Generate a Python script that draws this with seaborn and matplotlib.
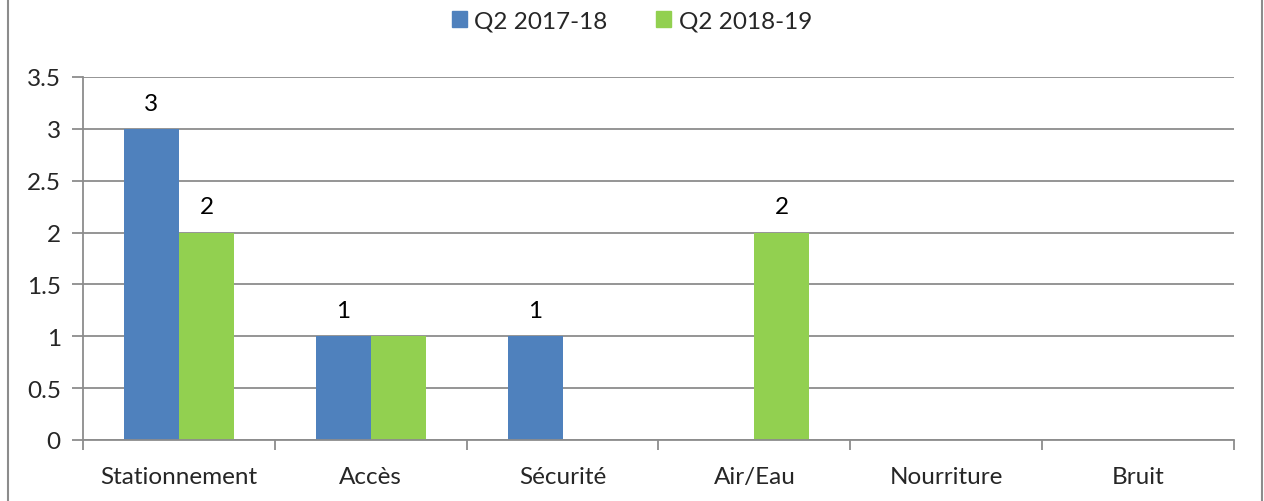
import matplotlib
matplotlib.use("Agg")
import matplotlib.pyplot as plt
import seaborn as sns
import pandas as pd
import numpy as np
from matplotlib.lines import Line2D

categories = ["Stationnement", "Accès", "Sécurité", "Air/Eau", "Nourriture", "Bruit"]
series_names = ["Q2 2017-18", "Q2 2018-19"]
values_2017 = [3, 1, 1, 0, 0, 0]
values_2018 = [2, 1, 0, 2, 0, 0]
labels_2017 = ["3", "1", "1", "", "", ""]
labels_2018 = ["2", "", "", "2", "", ""]
yticks = [0, 0.5, 1, 1.5, 2, 2.5, 3, 3.5]
colors = ["#4F81BD", "#92D050"]

sns.set_style("white")
plt.rcParams['font.family'] = ['Lato', 'DejaVu Sans']
FS = 17.5

df = pd.DataFrame({
    "cat": categories * 2,
    "series": [series_names[0]] * 6 + [series_names[1]] * 6,
    "val": values_2017 + values_2018,
})

fig = plt.figure(figsize=(12.64, 5.02), dpi=100)
ax = fig.add_axes([83/1264, 1-441/502, (1234-83)/1264, (441-78)/502])

sns.barplot(data=df, x="cat", y="val", hue="series", palette=colors,
            width=0.574, ax=ax, saturation=1, legend=False)

for p in ax.patches:
    p.set_linewidth(0)

for cont, labs in zip(ax.containers, [labels_2017, labels_2018]):
    ax.bar_label(cont, labels=labs, padding=11, fontsize=FS, color="#000000")

ax.set_ylim(0, 3.5)
ax.set_xlim(-0.5, 5.5)
ax.set_yticks(yticks)
ax.set_yticklabels(["%g" % t for t in yticks], fontsize=FS)
ax.set_xticks(range(len(categories)))
ax.set_xticklabels(categories, fontsize=FS)
ax.set_xlabel("")
ax.set_ylabel("")
ax.yaxis.grid(True, color="#8C8C8C", linewidth=1.3)
ax.set_axisbelow(True)
for s in ["top", "right"]:
    ax.spines[s].set_visible(False)
for s in ["left", "bottom"]:
    ax.spines[s].set_color("#8C8C8C")
    ax.spines[s].set_linewidth(1.3)
ax.tick_params(axis="y", length=8, width=1.3, color="#8C8C8C", pad=8, left=True)
ax.tick_params(axis="x", length=0, pad=19)
ax.set_xticks(np.arange(-0.5, 6.0, 1.0), minor=True)
ax.tick_params(axis="x", which="minor", length=7, width=1.3, color="#8C8C8C", bottom=True)

handles = [plt.Rectangle((0, 0), 1, 1, color=c) for c in colors]
fig.legend(handles, series_names, loc="center", bbox_to_anchor=(0.5, 1-22/502),
           ncol=2, frameon=False, fontsize=FS, handlelength=0.62, handleheight=0.62,
           handletextpad=0.3, columnspacing=2.0)

fig.add_artist(Line2D([7.5/1264, 7.5/1264], [0, 1], color="#8C8C8C", linewidth=1.5))
fig.add_artist(Line2D([1262/1264, 1262/1264], [0, 1], color="#8C8C8C", linewidth=1.5))

fig.savefig("out.png", dpi=100)
